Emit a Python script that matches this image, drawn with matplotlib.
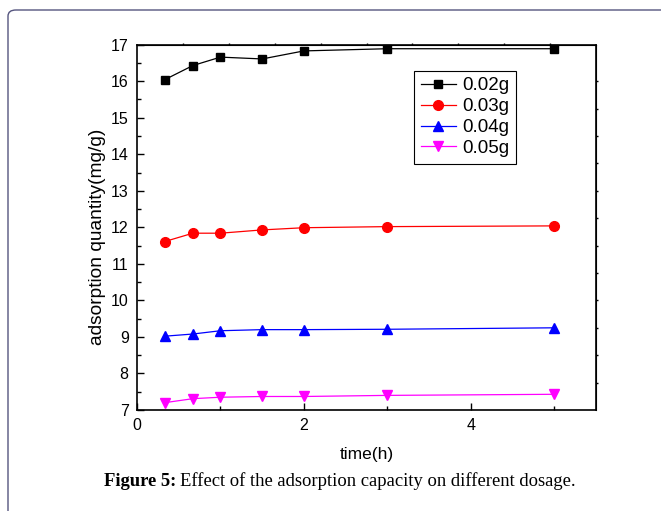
import numpy as np
import matplotlib
matplotlib.use("Agg")
import matplotlib.pyplot as plt
from matplotlib.patches import FancyBboxPatch

plt.rcParams['font.family'] = ['Liberation Sans', 'DejaVu Sans']

# time in hours
time_h = [0.33, 0.67, 1.0, 1.5, 2.0, 3.0, 5.0]

# adsorption quantity (mg/g) per dosage
q_002 = [16.04, 16.43, 16.66, 16.61, 16.83, 16.89, 16.89]
q_003 = [11.61, 11.84, 11.84, 11.93, 11.99, 12.02, 12.04]
q_004 = [9.02, 9.08, 9.17, 9.20, 9.20, 9.21, 9.25]
q_005 = [7.20, 7.31, 7.35, 7.37, 7.37, 7.40, 7.43]

labels = ["0.02g", "0.03g", "0.04g", "0.05g"]
series = [q_002, q_003, q_004, q_005]
colors = ["black", "red", "blue", "magenta"]
markers = ["s", "o", "^", "v"]
msizes = [6, 7, 7.5, 7.5]

fig = plt.figure(figsize=(6.61, 5.11), dpi=100)
W, H = 661.0, 511.0

# page frame behind the chart
frame = FancyBboxPatch((8 / W, -0.1), 1.2, 1 - 10 / H + 0.1,
                       boxstyle="round,pad=0,rounding_size=0.012",
                       transform=fig.transFigure, facecolor="none",
                       edgecolor="#55557f", linewidth=1.0, zorder=0)
fig.patches.append(frame)

ax = fig.add_axes([137 / W, 1 - 410 / H, (596 - 137) / W, (410 - 44.7) / H])

for y, lab, c, m, ms in zip(series, labels, colors, markers, msizes):
    ax.plot(time_h, y, color=c, marker=m, markersize=ms, linewidth=0.9,
            label=lab, clip_on=False)

ax.set_xlim(0, 5.5)
ax.set_ylim(7, 17)
ax.set_xticks([0, 2, 4])
ax.set_xticks([1, 3, 5], minor=True)
ax.set_yticks(np.arange(7, 18, 1))
ax.set_yticks(np.arange(7.5, 17, 1), minor=True)
ax.tick_params(axis="both", which="major", direction="in", length=5,
               width=1, labelsize=11.5, pad=6)
ax.tick_params(axis="both", which="minor", direction="in", length=3, width=1)
for s in ax.spines.values():
    s.set_linewidth(1.2)

# small outward ticks on top and right
top = ax.secondary_xaxis("top")
top.set_xticks(np.arange(0.55, 5.0, 0.55))
top.tick_params(direction="out", length=1.5, width=1, labeltop=False)
top.set_xticklabels([])
right = ax.secondary_yaxis("right")
right.set_yticks(7 + 0.75 * np.arange(1, 13))
right.tick_params(direction="out", length=1.5, width=1)
right.set_yticklabels([])

ax.set_xlabel("time(h)", fontsize=12.5, labelpad=10)
ax.set_ylabel("adsorption quantity(mg/g)", fontsize=13.8)
ax.yaxis.set_label_coords(-0.068, 0.475)

leg = ax.legend(loc="upper left", bbox_to_anchor=(0.6035, 0.929),
                borderaxespad=0, fontsize=13.5, fancybox=False,
                edgecolor="black", framealpha=1, handlelength=1.9,
                handletextpad=0.3, labelspacing=0.2, borderpad=0.35)
leg.get_frame().set_linewidth(0.8)

# caption
cap_y = 1 - 481 / H
t1 = fig.text(104 / W, cap_y, "Figure 5:", family="Liberation Serif",
              fontweight="bold", fontsize=13.4, va="center")
fig.canvas.draw()
bb = t1.get_window_extent()
fig.text(bb.x1 / W + 4 / W, cap_y, "Effect of the adsorption capacity on different dosage.",
         family="Liberation Serif", fontsize=13.4, va="center")

fig.savefig("out.png", dpi=100)
